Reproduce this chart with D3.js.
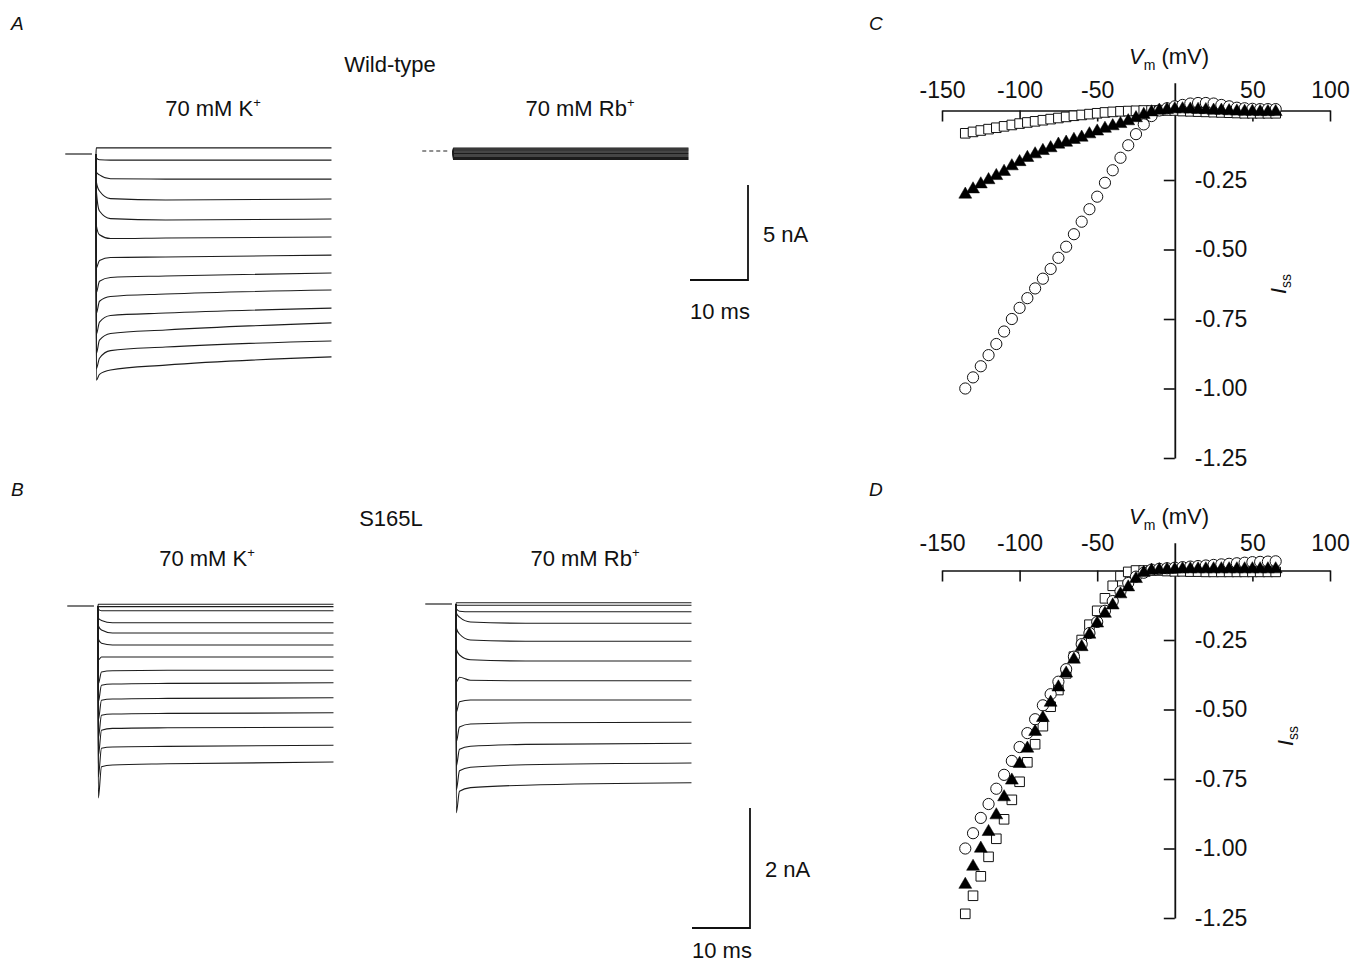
<!DOCTYPE html>
<html>
<head>
<meta charset="utf-8">
<script src="https://cdn.jsdelivr.net/npm/d3@7"></script>
<style>
  body { margin: 0; background: #fff; }
  svg text { font-family: "Liberation Sans", Arial, sans-serif; fill: #111; }
</style>
</head>
<body>
<script>
// ==== Data: current traces (time in ms, current in nA) ====
const traceT = [0, 0.05, 0.6, 2.5, 12, 40.6];
const holdT = [-5.3, -0.7];

// Wild-type, 70 mM K+
const wtK = [
  [0, 0.32, 0.32, 0.32, 0.32, 0.32],
  [0, -0.2, -0.3, -0.32, -0.32, -0.32],
  [0, -0.95, -1.1, -1.3, -1.32, -1.32],
  [0, -1.45, -1.95, -2.35, -2.42, -2.37],
  [0, -1.9, -3.0, -3.4, -3.47, -3.42],
  [0, -3.75, -4.25, -4.45, -4.42, -4.37],
  [0, -6.0, -5.6, -5.45, -5.42, -5.32],
  [0, -7.3, -6.7, -6.5, -6.42, -6.26],
  [0, -8.4, -7.75, -7.5, -7.37, -7.16],
  [0, -9.5, -8.85, -8.5, -8.37, -8.11],
  [0, -10.5, -9.8, -9.45, -9.26, -8.89],
  [0, -11.3, -10.75, -10.35, -10.16, -9.84],
  [0, -11.9, -11.6, -11.37, -11.11, -10.68]
];

// Wild-type, 70 mM Rb+
const wtRb = [
  [0, 0.16, 0.16, 0.16, 0.16, 0.16],
  [0, 0.11, 0.11, 0.11, 0.11, 0.11],
  [0, 0.06, 0.06, 0.06, 0.06, 0.06],
  [0, 0.01, 0.01, 0.01, 0.01, 0.01],
  [0, -0.04, -0.04, -0.04, -0.04, -0.04],
  [0, -0.09, -0.09, -0.09, -0.09, -0.09],
  [0, -0.14, -0.14, -0.14, -0.14, -0.14],
  [0, -0.2, -0.2, -0.2, -0.2, -0.2],
  [0, -0.25, -0.25, -0.25, -0.25, -0.25],
  [0, -0.3, -0.3, -0.3, -0.3, -0.3],
  [0, -0.35, -0.35, -0.35, -0.35, -0.35],
  [0, -0.4, -0.4, -0.4, -0.4, -0.4],
  [0, -0.45, -0.45, -0.45, -0.45, -0.45]
];

// S165L, 70 mM K+
const mutK = [
  [0, 0.03, 0.03, 0.03, 0.03, 0.03],
  [0, -0.01, -0.01, -0.01, -0.01, -0.01],
  [0, -0.05, -0.08, -0.08, -0.08, -0.08],
  [0, -0.2, -0.24, -0.28, -0.28, -0.28],
  [0, -0.33, -0.4, -0.45, -0.45, -0.45],
  [0, -0.55, -0.62, -0.65, -0.65, -0.65],
  [0, -0.9, -0.85, -0.85, -0.85, -0.85],
  [0, -1.3, -1.1, -1.08, -1.07, -1.07],
  [0, -1.6, -1.32, -1.3, -1.29, -1.28],
  [0, -1.9, -1.57, -1.55, -1.54, -1.53],
  [0, -2.2, -1.82, -1.8, -1.79, -1.78],
  [0, -2.5, -2.07, -2.04, -2.03, -2.02],
  [0, -2.85, -2.37, -2.35, -2.34, -2.32],
  [0, -3.2, -2.68, -2.65, -2.63, -2.6]
];

// S165L, 70 mM Rb+
const mutRb = [
  [0, 0.02, 0.02, 0.02, 0.02, 0.02],
  [0, -0.02, -0.02, -0.02, -0.02, -0.02],
  [0, -0.08, -0.12, -0.13, -0.13, -0.13],
  [0, -0.15, -0.22, -0.3, -0.32, -0.32],
  [0, -0.4, -0.5, -0.6, -0.62, -0.62],
  [0, -0.75, -0.85, -0.93, -0.95, -0.95],
  [0, -1.3, -1.22, -1.27, -1.28, -1.28],
  [0, -1.8, -1.63, -1.6, -1.6, -1.6],
  [0, -2.3, -2.05, -2.0, -1.98, -1.97],
  [0, -2.7, -2.42, -2.37, -2.34, -2.32],
  [0, -3.1, -2.78, -2.72, -2.68, -2.65],
  [0, -3.48, -3.12, -3.06, -3.02, -2.98]
];

// ==== Data: normalised steady-state I-V (Iss vs Vm) ====
const vSteps = [-135, -130, -125, -120, -115, -110, -105, -100, -95, -90, -85, -80, -75, -70,
  -65, -60, -55, -50, -45, -40, -35, -30, -25, -20, -15, -10, -5, 0, 5, 10, 15, 20, 25, 30,
  35, 40, 45, 50, 55, 60, 65];

// Panel C (wild-type)
const cCircles = [-1.0, -0.96, -0.92, -0.88, -0.84, -0.795, -0.75, -0.71, -0.675, -0.64, -0.605,
  -0.57, -0.53, -0.49, -0.445, -0.4, -0.355, -0.31, -0.26, -0.215, -0.17, -0.125, -0.085, -0.05,
  -0.02, 0.0, 0.008, 0.015, 0.02, 0.025, 0.027, 0.027, 0.025, 0.02, 0.015, 0.01, 0.008, 0.006,
  0.005, 0.005, 0.005];
const cTriangles = [-0.302, -0.283, -0.265, -0.25, -0.235, -0.22, -0.2, -0.185, -0.17, -0.157,
  -0.145, -0.135, -0.122, -0.115, -0.105, -0.097, -0.085, -0.075, -0.065, -0.056, -0.048, -0.038,
  -0.027, -0.015, -0.006, 0.0, 0.003, 0.005, 0.005, 0.004, 0.003, 0.002, 0.0, 0.0, -0.002, -0.003,
  -0.004, -0.004, -0.005, -0.005, -0.005];
const cSquares = [-0.082, -0.077, -0.072, -0.067, -0.062, -0.057, -0.052, -0.047, -0.043, -0.039,
  -0.035, -0.031, -0.027, -0.023, -0.019, -0.016, -0.013, -0.01, -0.007, -0.005, -0.003, -0.002,
  -0.001, 0, 0, 0, 0, 0, -0.002, -0.003, -0.004, -0.005, -0.006, -0.007, -0.008, -0.009, -0.01,
  -0.01, -0.01, -0.01, -0.01];

// Panel D (S165L)
const dCircles = [-1.0, -0.945, -0.89, -0.84, -0.785, -0.735, -0.685, -0.635, -0.585, -0.535,
  -0.485, -0.445, -0.4, -0.355, -0.31, -0.265, -0.225, -0.185, -0.145, -0.11, -0.075, -0.045,
  -0.022, -0.008, 0.003, 0.006, 0.008, 0.01, 0.012, 0.014, 0.016, 0.018, 0.02, 0.022, 0.024,
  0.026, 0.028, 0.03, 0.031, 0.032, 0.033];
const dTriangles = [-1.13, -1.065, -1.0, -0.94, -0.88, -0.815, -0.755, -0.695, -0.64, -0.58,
  -0.53, -0.475, -0.42, -0.37, -0.32, -0.275, -0.23, -0.19, -0.155, -0.125, -0.085, -0.06, -0.03,
  -0.008, 0.0, 0.002, 0.003, 0.004, 0.005, 0.005, 0.005, 0.005, 0.005, 0.005, 0.005, 0.005, 0.005,
  0.005, 0.005, 0.005, 0.005];
const dSquares = [-1.235, -1.17, -1.1, -1.03, -0.965, -0.895, -0.825, -0.76, -0.69, -0.625, -0.56,
  -0.49, -0.43, -0.37, -0.31, -0.25, -0.195, -0.145, -0.1, -0.055, -0.02, -0.005, 0, 0, 0, 0,
  -0.002, -0.003, -0.003, -0.004, -0.004, -0.005, -0.005, -0.005, -0.005, -0.005, -0.005, -0.005,
  -0.005, -0.005, -0.005];

const vTicks = [-150, -100, -50, 50, 100];
const iTicks = [-0.25, -0.5, -0.75, -1.0, -1.25];

// ==== SVG ====
const svg = d3.select("body").append("svg")
  .attr("width", 1352)
  .attr("height", 964);

const FS = 22;

function label(x, y, txt, opts = {}) {
  const t = svg.append("text")
    .attr("x", x).attr("y", y)
    .attr("text-anchor", opts.anchor || "start")
    .style("font-size", (opts.size || FS) + "px")
    .style("font-style", opts.italic ? "italic" : "normal");
  t.append("tspan").text(txt);
  if (opts.sup) {
    t.append("tspan").attr("dy", -9).style("font-size", "13px").text(opts.sup);
  }
  return t;
}

// panel letters
label(11, 30, "A", { italic: true, size: 19 });
label(11, 496, "B", { italic: true, size: 19 });
label(869, 30, "C", { italic: true, size: 19 });
label(869, 496, "D", { italic: true, size: 19 });

// titles
label(390, 72, "Wild-type", { anchor: "middle" });
label(213, 116, "70 mM K", { anchor: "middle", sup: "+" });
label(580, 116, "70 mM Rb", { anchor: "middle", sup: "+" });
label(391, 526, "S165L", { anchor: "middle" });
label(207, 566, "70 mM K", { anchor: "middle", sup: "+" });
label(585, 566, "70 mM Rb", { anchor: "middle", sup: "+" });

// ==== Traces ====
function drawTraces(traces, x, y, dashedHold) {
  const g = svg.append("g");
  const line = d3.line()
    .x(d => x(d[0]))
    .y(d => y(d[1]))
    .curve(d3.curveMonotoneX);

  g.append("path")
    .attr("d", d3.line().x(t => x(t)).y(() => y(0))(holdT))
    .attr("fill", "none")
    .attr("stroke", "#222")
    .attr("stroke-width", 1.2)
    .attr("stroke-dasharray", dashedHold ? "4,3" : null);

  g.selectAll(".trace")
    .data(traces)
    .enter().append("path")
      .attr("class", "trace")
      .attr("d", tr => line(traceT.map((t, i) => [t, tr[i]])))
      .attr("fill", "none")
      .attr("stroke", "#1c1c1c")
      .attr("stroke-width", 1.1);
  return g;
}

const yA = d3.scaleLinear().domain([0, -5]).range([154, 249]);
const yARb = d3.scaleLinear().domain([0, -5]).range([151, 246]);
const yB = d3.scaleLinear().domain([0, -2]).range([606, 726]);
const yBRb = d3.scaleLinear().domain([0, -2]).range([604, 724]);
const xAK = d3.scaleLinear().domain([0, 10]).range([96, 154]);
const xARb = d3.scaleLinear().domain([0, 10]).range([453, 511]);
const xBK = d3.scaleLinear().domain([0, 10]).range([98, 156]);
const xBRb = d3.scaleLinear().domain([0, 10]).range([456, 514]);

drawTraces(wtK, xAK, yA, false);
drawTraces(wtRb, xARb, yARb, true);
drawTraces(mutK, xBK, yB, false);
drawTraces(mutRb, xBRb, yBRb, false);

// scale bars
function scaleBar(xr, yr, barI, x0, y0, iText, ty) {
  const w = xr(10) - xr(0);
  const h = yr(-barI) - yr(0);
  svg.append("path")
    .attr("d", `M${x0 - w},${y0}H${x0}V${y0 - h}`)
    .attr("fill", "none")
    .attr("stroke", "#111")
    .attr("stroke-width", 1.8);
  label(x0 + 15, y0 - h / 2 + 9, iText);
  label(x0 - w, ty, "10 ms");
}
scaleBar(xAK, yA, 5, 748, 280, "5 nA", 319);
scaleBar(xBK, yB, 2, 750, 928, "2 nA", 958);

// ==== I-V plots ====
function ivPanel(opts) {
  const { yTop, yBottom, labelPad, series, issX, issY, vmY } = opts;
  const x = d3.scaleLinear().domain([-150, 100]).range([942, 1330]);
  const y = d3.scaleLinear().domain([0.1, -1.25]).range([yTop, yBottom]);

  const g = svg.append("g");

  const xAx = g.append("g")
    .attr("transform", `translate(0,${y(0)})`)
    .call(d3.axisTop(x).tickValues(vTicks).tickFormat(d => String(d))
      .tickSizeInner(-11).tickSizeOuter(0).tickPadding(labelPad));
  xAx.select(".domain").attr("stroke-width", 1.6).attr("stroke", "#111");
  xAx.selectAll(".tick line").attr("stroke-width", 1.6).attr("stroke", "#111");
  xAx.selectAll("text").style("font-size", "23px").attr("fill", "#111")
    .style("font-family", "'Liberation Sans', Arial, sans-serif");

  const yAx = g.append("g")
    .attr("transform", `translate(${x(0)},0)`)
    .call(d3.axisRight(y).tickValues(iTicks).tickFormat(d => d3.format(".2f")(d).replace("−", "-"))
      .tickSizeInner(-11).tickSizeOuter(0).tickPadding(20));
  yAx.select(".domain").attr("stroke-width", 1.8).attr("stroke", "#111");
  yAx.selectAll(".tick line").attr("stroke-width", 1.6).attr("stroke", "#111");
  yAx.selectAll("text").style("font-size", "23px").attr("fill", "#111")
    .style("font-family", "'Liberation Sans', Arial, sans-serif");

  // Vm label
  const vm = svg.append("text").attr("x", 1129).attr("y", vmY).style("font-size", "22px");
  vm.append("tspan").style("font-style", "italic").text("V");
  vm.append("tspan").attr("dy", 6).style("font-size", "14px").text("m");
  vm.append("tspan").attr("dy", -6).text(" (mV)");

  // Iss label (rotated)
  const iss = svg.append("text")
    .attr("transform", `translate(${issX},${issY}) rotate(-90)`)
    .style("font-size", "22px");
  iss.append("tspan").style("font-style", "italic").text("I");
  iss.append("tspan").attr("dy", 5).style("font-size", "14px").text("ss");

  const pts = arr => arr.map((v, i) => ({ v: vSteps[i], i: v }));

  // squares
  g.selectAll(".sq")
    .data(pts(series.squares))
    .enter().append("path")
      .attr("class", "sq")
      .attr("transform", d => `translate(${x(d.v)},${y(d.i)})`)
      .attr("d", d3.symbol(d3.symbolSquare, 92)())
      .attr("fill", "#fff")
      .attr("stroke", "#111")
      .attr("stroke-width", 1);

  // circles
  g.selectAll(".ci")
    .data(pts(series.circles))
    .enter().append("circle")
      .attr("class", "ci")
      .attr("cx", d => x(d.v))
      .attr("cy", d => y(d.i))
      .attr("r", 5.6)
      .attr("fill", "#fff")
      .attr("stroke", "#111")
      .attr("stroke-width", 1);

  // triangles
  g.selectAll(".tr")
    .data(pts(series.triangles))
    .enter().append("path")
      .attr("class", "tr")
      .attr("transform", d => `translate(${x(d.v)},${y(d.i)})`)
      .attr("d", d3.symbol(d3.symbolTriangle, 72)())
      .attr("fill", "#000")
      .attr("stroke", "#000")
      .attr("stroke-width", 0.5);
}

ivPanel({
  yTop: 82.7, yBottom: 458, labelPad: 13, vmY: 64, issX: 1286, issY: 294,
  series: { circles: cCircles, triangles: cTriangles, squares: cSquares }
});
ivPanel({
  yTop: 542.7, yBottom: 918, labelPad: 20, vmY: 524, issX: 1293, issY: 746,
  series: { circles: dCircles, triangles: dTriangles, squares: dSquares }
});
</script>
</body>
</html>
